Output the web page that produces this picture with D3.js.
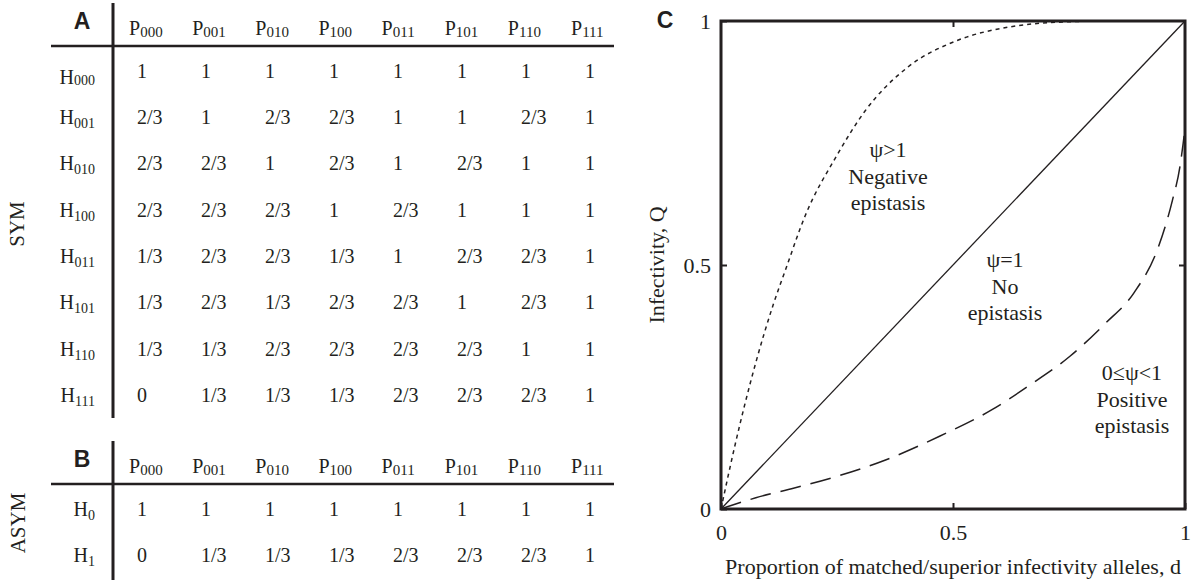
<!DOCTYPE html>
<html>
<head>
<meta charset="utf-8">
<script src="https://cdn.jsdelivr.net/npm/d3@7"></script>
<style>
    body { margin: 0; background: #fff; }
    svg text { font-family: "Liberation Serif", "Times New Roman", serif; fill: #231f20; }
    .panel { font-family: "Liberation Sans", Arial, sans-serif !important; font-weight: bold; }
</style>
</head>
<body>
<script>
// ---- data ----
const parasites = ["000", "001", "010", "100", "011", "101", "110", "111"];
const hostsSym = ["000", "001", "010", "100", "011", "101", "110", "111"];
const symValues = [
    ["1", "1", "1", "1", "1", "1", "1", "1"],
    ["2/3", "1", "2/3", "2/3", "1", "1", "2/3", "1"],
    ["2/3", "2/3", "1", "2/3", "1", "2/3", "1", "1"],
    ["2/3", "2/3", "2/3", "1", "2/3", "1", "1", "1"],
    ["1/3", "2/3", "2/3", "1/3", "1", "2/3", "2/3", "1"],
    ["1/3", "2/3", "1/3", "2/3", "2/3", "1", "2/3", "1"],
    ["1/3", "1/3", "2/3", "2/3", "2/3", "2/3", "1", "1"],
    ["0", "1/3", "1/3", "1/3", "2/3", "2/3", "2/3", "1"]
];
const hostsAsym = ["0", "1"];
const asymValues = [
    ["1", "1", "1", "1", "1", "1", "1", "1"],
    ["0", "1/3", "1/3", "1/3", "2/3", "2/3", "2/3", "1"]
];

// panel C curves (d, Q)
const noEpiD = [0, 1];
const noEpiQ = [0, 1];
const negEpiD = [0, 0.03, 0.075, 0.113, 0.139, 0.181, 0.25, 0.31, 0.402, 0.509, 0.623, 0.737, 0.85, 1];
const negEpiQ = [0, 0.13, 0.30, 0.42, 0.49, 0.6, 0.725, 0.815, 0.905, 0.96, 0.988, 0.998, 1, 1];
const posEpiD = [0, 0.075, 0.158, 0.25, 0.356, 0.471, 0.585, 0.661, 0.752, 0.829, 0.89, 0.943, 0.973, 0.989, 0.996, 1];
const posEpiQ = [0, 0.023, 0.043, 0.067, 0.101, 0.149, 0.204, 0.251, 0.313, 0.381, 0.443, 0.538, 0.633, 0.701, 0.749, 0.78];
const axisTicks = [0, 0.5, 1];

const ink = "#231f20";

const svg = d3.select("body").append("svg")
    .attr("width", 1193)
    .attr("height", 584);

// ---- tables A and B ----
const colValX = d3.scalePoint().domain(parasites).range([137, 585]);
const colHeadX = d3.scalePoint().domain(parasites).range([129, 571]);

function drawTable(opts) {
    const g = svg.append("g");

    g.append("text").attr("class", "panel")
        .attr("x", 82).attr("y", opts.letterY)
        .attr("text-anchor", "middle")
        .style("font-size", "23px")
        .text(opts.letter);

    // rules
    g.append("line")
        .attr("x1", 113).attr("x2", 113)
        .attr("y1", opts.vTop).attr("y2", opts.vBottom)
        .attr("stroke", ink).attr("stroke-width", 3);
    g.append("line")
        .attr("x1", 51).attr("x2", 614)
        .attr("y1", opts.ruleY).attr("y2", opts.ruleY)
        .attr("stroke", ink).attr("stroke-width", 2.6);

    // column headers P_xxx
    const head = g.selectAll(".head").data(parasites).enter().append("text")
        .attr("x", d => colHeadX(d))
        .attr("y", opts.headY)
        .style("font-size", "20px");
    head.append("tspan").text("P");
    head.append("tspan").attr("dy", 2).style("font-size", "15px").text(d => d);

    // row labels H_xxx
    const lab = g.selectAll(".rowlab").data(opts.hosts).enter().append("text")
        .attr("x", 95)
        .attr("y", (d, i) => opts.rowY(d) + (opts.firstRowShift && i === 0 ? opts.firstRowShift : 0))
        .attr("text-anchor", "end")
        .style("font-size", "20px");
    lab.append("tspan").text("H");
    lab.append("tspan")
        .attr("dy", (d, i) => (opts.firstRowShift && i === 0) ? 1 : 4)
        .style("font-size", "14px").text(d => d);

    // cells
    opts.values.forEach((row, r) => {
        g.selectAll(null).data(row).enter().append("text")
            .attr("x", (d, c) => colValX(parasites[c]))
            .attr("y", opts.rowY(opts.hosts[r]))
            .style("font-size", "20px")
            .text(d => d);
    });

    // side label
    g.append("text")
        .attr("transform", `translate(${opts.sideX},${opts.sideY}) rotate(-90)`)
        .attr("text-anchor", "middle")
        .attr("dy", "0.35em")
        .style("font-size", "21px")
        .text(opts.side);
}

drawTable({
    letter: "A", letterY: 29,
    vTop: 3, vBottom: 418, ruleY: 46, headY: 35,
    hosts: hostsSym, values: symValues,
    rowY: d3.scalePoint().domain(hostsSym).range([77.7, 401.8]),
    firstRowShift: 6,
    side: "SYM", sideX: 17, sideY: 224
});

drawTable({
    letter: "B", letterY: 467,
    vTop: 441, vBottom: 580, ruleY: 484, headY: 473,
    hosts: hostsAsym, values: asymValues,
    rowY: d3.scalePoint().domain(hostsAsym).range([516, 562]),
    side: "ASYM", sideX: 18, sideY: 523
});

// ---- panel C ----
const x = d3.scaleLinear().domain([0, 1]).range([721, 1185]);
const y = d3.scaleLinear().domain([0, 1]).range([509, 21]);

const line = d3.line()
    .x(d => x(d[0]))
    .y(d => y(d[1]))
    .curve(d3.curveMonotoneX);

const zip = (a, b) => a.map((v, i) => [v, b[i]]);

svg.append("path")
    .attr("d", line(zip(noEpiD, noEpiQ)))
    .attr("fill", "none").attr("stroke", ink).attr("stroke-width", 1.3);
svg.append("path")
    .attr("d", line(zip(negEpiD, negEpiQ)))
    .attr("fill", "none").attr("stroke", ink).attr("stroke-width", 1.5)
    .attr("stroke-dasharray", "4,4");
svg.append("path")
    .attr("d", line(zip(posEpiD, posEpiQ)))
    .attr("fill", "none").attr("stroke", ink).attr("stroke-width", 1.5)
    .attr("stroke-dasharray", "21,10");

// frame
svg.append("rect")
    .attr("x", x(0)).attr("y", y(1))
    .attr("width", x(1) - x(0)).attr("height", y(0) - y(1))
    .attr("fill", "none").attr("stroke", ink).attr("stroke-width", 3);

const fmt = d3.format("");

const xAxisG = svg.append("g")
    .attr("transform", `translate(0,${y(0)})`)
    .call(d3.axisBottom(x).tickValues(axisTicks).tickSize(-6).tickPadding(15).tickFormat(fmt));
const yAxisG = svg.append("g")
    .attr("transform", `translate(${x(0)},0)`)
    .call(d3.axisLeft(y).tickValues(axisTicks).tickSize(-6).tickPadding(10).tickFormat(fmt));
const topG = svg.append("g")
    .attr("transform", `translate(0,${y(1)})`)
    .call(d3.axisTop(x).tickValues([0.5]).tickSize(-6).tickFormat(""));
const rightG = svg.append("g")
    .attr("transform", `translate(${x(1)},0)`)
    .call(d3.axisRight(y).tickValues([0.5]).tickSize(-6).tickFormat(""));

[xAxisG, yAxisG, topG, rightG].forEach(g => {
    g.select(".domain").remove();
    g.selectAll(".tick line").attr("stroke", ink).attr("stroke-width", 2);
    g.selectAll(".tick text")
        .style("font-family", "'Liberation Serif', serif")
        .style("font-size", "22px")
        .attr("fill", ink);
});

svg.append("text").attr("class", "panel")
    .attr("x", 665).attr("y", 28)
    .attr("text-anchor", "middle")
    .style("font-size", "23px")
    .text("C");

svg.append("text")
    .attr("x", x(0.5)).attr("y", 574)
    .attr("text-anchor", "middle")
    .style("font-size", "22px")
    .text("Proportion of matched/superior infectivity alleles, d");

svg.append("text")
    .attr("transform", `translate(656,${y(0.5)}) rotate(-90)`)
    .attr("text-anchor", "middle")
    .attr("dy", "0.35em")
    .style("font-size", "22px")
    .text("Infectivity, Q");

// curve annotations
const notes = [
    { cx: 888, lines: ["ψ>1", "Negative", "epistasis"], top: 157 },
    { cx: 1005, lines: ["ψ=1", "No", "epistasis"], top: 267 },
    { cx: 1132, lines: ["0≤ψ<1", "Positive", "epistasis"], top: 380 }
];
notes.forEach(n => {
    const t = svg.append("text")
        .attr("text-anchor", "middle")
        .style("font-size", "22px");
    n.lines.forEach((s, i) => {
        t.append("tspan").attr("x", n.cx).attr("y", n.top + i * 26.5).text(s);
    });
});
</script>
</body>
</html>
